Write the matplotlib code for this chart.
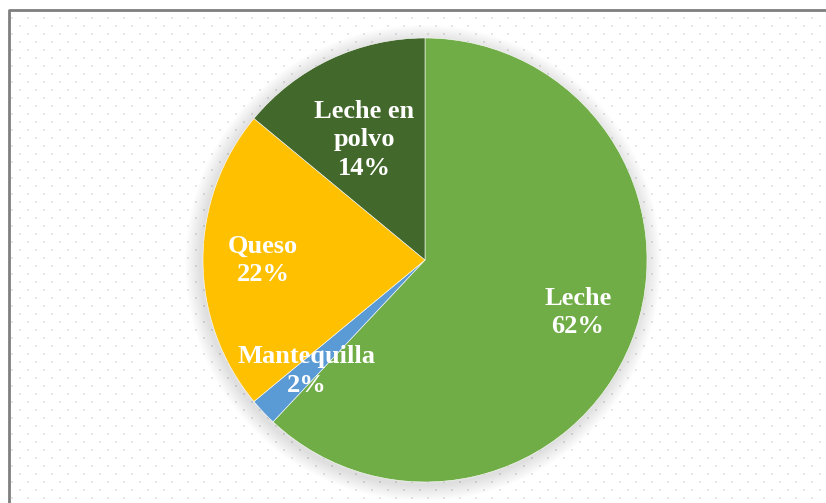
import numpy as np
import matplotlib.pyplot as plt
from matplotlib.patches import Circle

categorias = ['Leche', 'Mantequilla', 'Queso', 'Leche en\npolvo']
porcentajes = [62, 2, 22, 14]
colores = ['#70AD47', '#5B9BD5', '#FFC000', '#43682B']

W, H = 826, 503
fig = plt.figure(figsize=(W / 100, H / 100), dpi=100)
ax = fig.add_axes([0, 0, 1, 1])
ax.set_xlim(0, W)
ax.set_ylim(0, H)
ax.set_aspect('equal')
ax.axis('off')

# dotted background (staggered grid)
gx, gy = [], []
for j, y in enumerate(range(H - 18, 0, -8)):
    off = 0 if j % 2 == 0 else 8
    for x in range(12 + off, W, 16):
        gx.append(x)
        gy.append(y)
ax.scatter(gx, gy, s=1.2, marker='s', color='#e6e6e6', linewidths=0, zorder=0)

# frame
ax.plot([9, 9, W + 5], [-5, H - 10, H - 10], color='#7f7f7f', lw=2, zorder=1)

cx, cy, R = 425, 243, 222

# soft shadow, slightly offset down-left
for k in range(16):
    ax.add_patch(Circle((cx - 2, cy - 3), R + 16 - k, color='#000000',
                        alpha=0.006, lw=0, zorder=2))

etiquetas = iter(categorias)
wedges, texts, autotexts = ax.pie(
    porcentajes, colors=colores, startangle=90, counterclock=False,
    center=(cx, cy), radius=R, frame=True,
    autopct=lambda p: f'{next(etiquetas)}\n{p:.0f}%', pctdistance=0.73,
    wedgeprops=dict(edgecolor='white', linewidth=0.4),
    textprops=dict(color='white', fontsize=19, fontweight='bold',
                   family='Liberation Serif', linespacing=1.3))
for w in wedges:
    w.set_zorder(3)
for t in autotexts:
    t.set_zorder(4)

# small label nudges to match the original layout
x, y = autotexts[0].get_position()
autotexts[0].set_position((x + 2, y + 7))
x, y = autotexts[3].get_position()
autotexts[3].set_position((cx + (x - cx) * 0.82 - 4, cy + (y - cy) * 0.82))

ax.set_xlim(0, W)
ax.set_ylim(0, H)
ax.axis('off')
fig.savefig('out.png', dpi=100)
